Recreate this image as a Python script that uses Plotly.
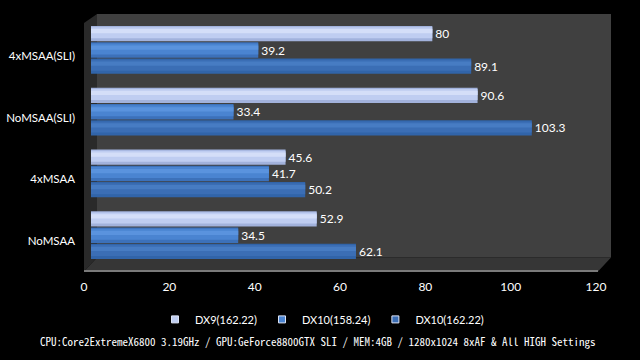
import plotly.graph_objects as go

categories = ["4xMSAA(SLI)", "NoMSAA(SLI)", "4xMSAA", "NoMSAA"]
series_names = ["DX9(162.22)", "DX10(158.24)", "DX10(162.22)"]
dx9 = [80, 90.6, 45.6, 52.9]
dx10_158 = [39.2, 33.4, 41.7, 34.5]
dx10_162 = [89.1, 103.3, 50.2, 62.1]
x_ticks = [0, 20, 40, 60, 80, 100, 120]
footer = "CPU:Core2ExtremeX6800 3.19GHz / GPU:GeForce8800GTX SLI / MEM:4GB / 1280x1024 8xAF & All HIGH Settings"

# per series: (edge shade, main, highlight)
palettes = [("#a2b2dc", "#bfcdf1", "#d4def8"),
            ("#3c71ba", "#4a84d1", "#5a93de"),
            ("#3164a9", "#3b6eb5", "#477cc3")]
offsets = [-0.388, -0.122, 0.140]
BAR_W = 0.248
LABEL_FONT = "Lato"

W, H = 640, 360
L, R, T, B = 91, 603, 19, 266.5

def px(x):
    return (x - L) / (R - L)

def py(y):
    return (B - y) / (B - T)

fig = go.Figure()
for name, vals, pal, off in zip(series_names, [dx9, dx10_158, dx10_162], palettes, offsets):
    shade, main, hi = pal
    fig.add_trace(go.Bar(
        y=categories, x=vals, name=name, orientation="h", legendgroup=name, showlegend=False,
        width=BAR_W, offset=off,
        marker=dict(color=shade, line=dict(width=0)),
        text=[f"{v:g}" for v in vals], textposition="outside",
        textfont=dict(color="white", size=12, family=LABEL_FONT),
        cliponaxis=False,
    ))
    fig.add_trace(go.Bar(
        y=categories, x=vals, orientation="h", legendgroup=name, showlegend=False,
        width=BAR_W * 0.72, offset=off + BAR_W * 0.08,
        marker=dict(color=main, line=dict(width=0)), hoverinfo="skip",
    ))
    fig.add_trace(go.Bar(
        y=categories, x=vals, orientation="h", legendgroup=name, showlegend=False,
        width=BAR_W * 0.28, offset=off + BAR_W * 0.2,
        marker=dict(color=hi, line=dict(width=0)), hoverinfo="skip",
    ))
    fig.add_trace(go.Scatter(
        x=[None], y=[None], mode="markers", name=name, legendgroup=name,
        marker=dict(symbol="square", size=7, color=main, line=dict(color="#dde4f5", width=1)),
    ))

shapes = [
    dict(type="rect", xref="paper", yref="paper", x0=px(97), x1=px(611), y0=py(258), y1=py(14),
         fillcolor="#404040", line=dict(width=0), layer="below"),
    dict(type="path", xref="paper", yref="paper",
         path=f"M {px(84)} {py(23)} L {px(97)} {py(14)} L {px(97)} {py(258)} L {px(84)} {py(272)} Z",
         fillcolor="#2a2a2a", line=dict(width=0), layer="below"),
    dict(type="path", xref="paper", yref="paper",
         path=f"M {px(84)} {py(272)} L {px(97)} {py(258)} L {px(611)} {py(258)} L {px(598)} {py(272)} Z",
         fillcolor="#363636", line=dict(width=0), layer="below"),
    dict(type="line", xref="paper", yref="paper", x0=px(84), x1=px(598), y0=py(271.5), y1=py(271.5),
         line=dict(color="#7a7a7a", width=2), layer="below"),
]

fig.update_layout(
    width=W, height=H,
    paper_bgcolor="black", plot_bgcolor="rgba(0,0,0,0)",
    margin=dict(l=L, r=W - R, t=T, b=H - B, pad=0, autoexpand=False),
    barmode="overlay",
    shapes=shapes,
    showlegend=True,
    legend=dict(orientation="h", x=px(322), xanchor="center", y=py(320), yanchor="middle",
                font=dict(color="white", size=11, family=LABEL_FONT), bgcolor="rgba(0,0,0,0)",
                itemwidth=30, tracegroupgap=0),
    annotations=[dict(text=footer, xref="paper", yref="paper", x=px(318), y=py(342),
                      xanchor="center", yanchor="middle", showarrow=False,
                      font=dict(color="white", size=11, family="Noto Sans Mono CJK JP, Liberation Mono"))],
    font=dict(family=LABEL_FONT, color="white"),
)
fig.update_xaxes(range=[0, 120], tickvals=x_ticks, showgrid=False, zeroline=False, showline=False,
                 tickfont=dict(color="white", size=12, family=LABEL_FONT), automargin=False,
                 ticklabelstandoff=12, ticklabelshift=-7, fixedrange=True)
fig.update_yaxes(autorange="reversed", showgrid=False, zeroline=False, showline=False,
                 tickfont=dict(color="white", size=11.5, family=LABEL_FONT), automargin=False,
                 ticklabelstandoff=15, ticklabelshift=-6, fixedrange=True)

fig.write_html("out.html", config={"displayModeBar": False},
               post_script="document.body.style.margin='0';document.body.style.background='black';")
